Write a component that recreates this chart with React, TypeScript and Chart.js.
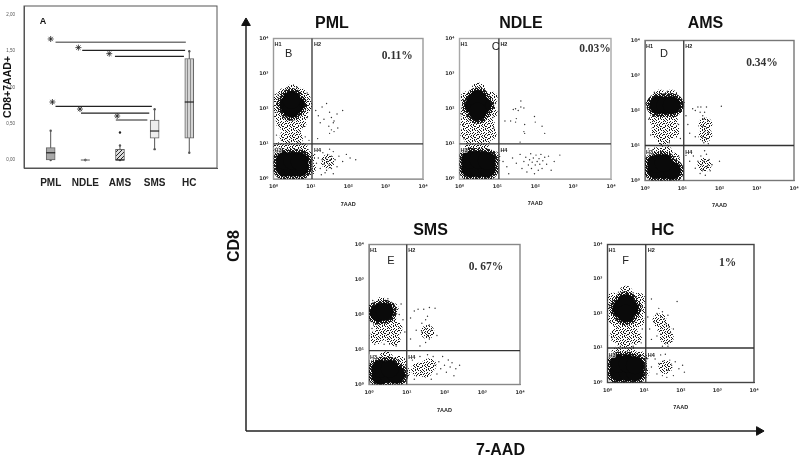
import React, { useEffect, useRef } from "react";
import { Chart, registerables } from "chart.js";

Chart.register(...registerables);

type P = [number, number];

/* ---------- Panel A: box plot values ---------- */
const categories = ["PML", "NDLE", "AMS", "SMS", "HC"];
const boxLow = [0, 0, 0, 0.3, 0.3];
const boxHigh = [0.17, 0, 0.147, 0.55, 1.4];
const medians = [0.1, 0, 0, 0.4, 0.8];
const whiskerLow = [0, 0, 0, 0.15, 0.1];
const whiskerHigh = [0.405, 0, 0.2, 0.7, 1.5];
const outliers: P[] = [[2, 0.38]];
const yTickValues = [0, 0.5, 1, 1.5, 2];
const sigLines: [number, number, number][] = [
  [0.14, 3.9, 1.623],
  [0.91, 3.88, 1.513],
  [1.855, 3.845, 1.43],
  [0.14, 2.92, 0.74],
  [0.875, 2.845, 0.648],
  [1.88, 2.79, 0.552],
];
const sigStars: P[] = [
  [0, 1.669],
  [0.8, 1.55],
  [1.69, 1.467],
  [0.05, 0.8],
  [0.845, 0.703],
  [1.92, 0.607],
];

/* ---------- Flow panels: values in log10 decades ---------- */
const flowTitles = ["PML", "NDLE", "AMS", "SMS", "HC"];
const flowLetters = ["B", "C", "D", "E", "F"];
const flowPercents = ["0.11%", "0.03%", "0.34%", "0. 67%", "1%"];
const gateNames = ["H1", "H2", "H3", "H4"];
const gates: P[] = [[1.03, 1.0], [1.04, 1.0], [1.04, 1.0], [1.0, 0.97], [1.045, 1.0]];

const pmlCore: P[] = [[0.4, 2.12], [0.58, 2.12], [0.48, 2.0], [0.48, 2.25], [0.3, 0.32], [0.5, 0.32], [0.7, 0.32], [0.3, 0.52], [0.5, 0.52], [0.7, 0.5]];
const pmlHaze: P[] = [[0.45, 1.72], [0.55, 1.55], [0.4, 1.45], [0.55, 1.3], [0.35, 1.2], [0.6, 1.15], [0.25, 1.6], [0.7, 1.6], [0.15, 2.05], [0.85, 2.1], [0.5, 2.5], [0.3, 2.4], [0.7, 2.4], [0.18, 2.27], [0.8, 2.3], [0.2, 1.8], [0.75, 1.85], [0.15, 0.85], [0.45, 0.88], [0.75, 0.85], [0.92, 0.6], [0.95, 0.3], [1.45, 0.5]];
const pmlSpecks: P[] = [[1.13, 1.95], [1.2, 1.8], [1.3, 2.05], [1.42, 2.15], [1.5, 1.9], [1.55, 1.75], [1.35, 1.7], [1.62, 1.65], [1.48, 1.5], [1.55, 1.4], [1.62, 1.35], [1.5, 1.3], [1.72, 1.45], [1.85, 1.95], [1.18, 1.15], [1.6, 1.6], [1.7, 1.85], [1.25, 1.6], [1.1, 0.7], [1.15, 0.45], [1.2, 0.6], [1.25, 0.3], [1.3, 0.55], [1.32, 0.75], [1.35, 0.42], [1.4, 0.6], [1.42, 0.25], [1.45, 0.5], [1.45, 0.7], [1.48, 0.4], [1.5, 0.85], [1.52, 0.55], [1.55, 0.3], [1.55, 0.65], [1.58, 0.45], [1.6, 0.15], [1.6, 0.78], [1.65, 0.55], [1.7, 0.35], [1.75, 0.65], [1.85, 0.5], [1.95, 0.7], [2.05, 0.6], [2.2, 0.55], [1.38, 0.18], [1.28, 0.12], [0.1, 1.9], [0.15, 1.55], [0.08, 1.25], [0.22, 1.1], [0.3, 1.75], [0.72, 1.35], [0.85, 1.2], [0.9, 1.75], [0.95, 1.1], [0.8, 1.5], [0.12, 2.4], [0.9, 2.45], [0.62, 2.62], [0.38, 2.6], [0.65, 1.05], [0.42, 1.05]];

const ndleCore: P[] = [[0.38, 2.1], [0.6, 2.1], [0.48, 2.27], [0.48, 1.92], [0.28, 0.3], [0.5, 0.3], [0.72, 0.3], [0.28, 0.55], [0.5, 0.55], [0.72, 0.52]];
const ndleHaze: P[] = [[0.5, 1.68], [0.35, 1.52], [0.62, 1.42], [0.45, 1.25], [0.3, 1.15], [0.65, 1.15], [0.2, 1.9], [0.82, 1.9], [0.2, 1.6], [0.75, 1.55], [0.2, 1.3], [0.8, 1.3], [0.2, 2.3], [0.82, 2.3], [0.5, 2.55], [0.3, 0.85], [0.6, 0.88], [0.9, 0.6], [0.5, 1.05]];
const ndleSpecks: P[] = [[1.62, 2.22], [1.48, 2.0], [1.55, 1.95], [1.62, 2.05], [1.42, 1.98], [1.7, 2.02], [1.5, 1.72], [1.2, 1.65], [1.35, 1.65], [1.48, 1.62], [1.72, 1.55], [1.98, 1.78], [2.0, 1.62], [2.18, 1.5], [1.7, 1.35], [1.72, 1.3], [2.25, 1.3], [1.6, 1.05], [1.15, 0.5], [1.25, 0.35], [1.4, 0.6], [1.5, 0.45], [1.6, 0.7], [1.65, 0.3], [1.7, 0.5], [1.75, 0.62], [1.78, 0.2], [1.82, 0.4], [1.85, 0.55], [1.88, 0.72], [1.9, 0.3], [1.92, 0.48], [1.95, 0.6], [1.98, 0.15], [2.0, 0.4], [2.02, 0.68], [2.05, 0.5], [2.08, 0.25], [2.1, 0.58], [2.12, 0.42], [2.15, 0.7], [2.18, 0.3], [2.2, 0.52], [2.25, 0.62], [2.3, 0.42], [2.35, 0.65], [2.42, 0.25], [2.5, 0.5], [2.65, 0.68], [1.3, 0.15], [1.1, 0.8], [0.1, 1.55], [0.12, 1.15], [0.9, 1.45], [0.88, 1.75], [0.4, 1.1], [0.05, 1.85], [0.95, 2.15]];

const amsCore: P[] = [[0.36, 2.15], [0.55, 2.15], [0.72, 2.15], [0.3, 0.3], [0.52, 0.3], [0.72, 0.28], [0.3, 0.48], [0.5, 0.5]];
const amsHaze: P[] = [[0.2, 2.2], [0.4, 2.4], [0.7, 2.4], [0.88, 2.2], [0.5, 1.85], [0.3, 1.75], [0.7, 1.7], [0.55, 1.5], [0.35, 1.4], [0.75, 1.4], [0.5, 1.2], [0.3, 0.75], [0.55, 0.8], [0.75, 0.6], [1.6, 0.45], [1.62, 1.6], [1.62, 1.3]];
const amsSpecks: P[] = [[1.1, 1.85], [1.15, 1.6], [1.2, 1.35], [1.28, 2.05], [1.35, 2.0], [1.42, 2.1], [1.48, 1.95], [1.5, 2.1], [1.55, 1.85], [1.6, 1.95], [1.65, 2.1], [1.58, 1.75], [1.68, 1.7], [1.55, 1.55], [1.65, 1.5], [1.6, 1.4], [1.7, 1.35], [1.55, 1.25], [1.65, 1.2], [1.58, 1.08], [1.7, 1.05], [2.05, 2.12], [1.35, 1.25], [1.1, 0.72], [1.2, 0.55], [1.3, 0.7], [1.35, 0.35], [1.42, 0.55], [1.48, 0.2], [1.5, 0.7], [1.55, 0.3], [1.58, 0.55], [1.62, 0.15], [1.65, 0.75], [1.68, 0.42], [1.72, 0.6], [1.75, 0.28], [1.6, 0.85], [1.52, 0.45], [1.65, 0.4], [1.8, 0.45], [2.0, 0.55], [0.1, 1.75], [0.15, 1.3], [0.9, 1.6], [0.95, 1.2], [0.1, 0.9], [0.9, 0.7], [0.42, 1.05], [0.65, 1.08], [0.95, 2.0], [0.25, 2.52], [0.6, 2.55]];

const smsCore: P[] = [[0.26, 2.05], [0.42, 2.08], [0.3, 0.25], [0.5, 0.3], [0.72, 0.28], [0.3, 0.45], [0.55, 0.45]];
const smsHaze: P[] = [[0.15, 2.15], [0.6, 2.15], [0.32, 2.3], [0.55, 1.8], [0.3, 1.7], [0.7, 1.6], [0.45, 1.45], [0.2, 1.35], [0.65, 1.3], [0.9, 0.35], [0.45, 0.75], [0.8, 0.62], [1.45, 0.46], [1.3, 0.42], [1.5, 0.4], [1.55, 1.5], [1.6, 0.55]];
const smsSpecks: P[] = [[1.1, 1.9], [1.2, 2.1], [1.3, 2.15], [1.45, 2.15], [1.6, 2.2], [1.75, 2.18], [1.4, 1.75], [1.5, 1.85], [1.55, 1.95], [1.25, 1.55], [1.4, 1.5], [1.5, 1.6], [1.6, 1.7], [1.55, 1.4], [1.6, 1.3], [1.5, 1.2], [1.35, 1.1], [1.8, 1.4], [1.1, 1.3], [1.65, 1.55], [1.7, 0.8], [1.75, 0.55], [1.8, 0.3], [1.85, 0.65], [1.9, 0.45], [1.95, 0.8], [2.0, 0.55], [2.05, 0.35], [2.1, 0.7], [2.15, 0.5], [2.2, 0.62], [2.25, 0.25], [2.3, 0.45], [2.4, 0.55], [1.65, 0.15], [1.2, 0.15], [1.55, 0.85], [1.35, 0.8], [1.15, 0.7], [0.08, 1.6], [0.15, 1.15], [0.4, 1.15], [0.72, 1.1], [0.9, 1.85], [0.95, 1.5], [0.8, 2.0], [0.85, 2.3], [0.5, 2.45], [0.1, 2.4]];

const hcCore: P[] = [[0.38, 2.15], [0.6, 2.15], [0.5, 2.3], [0.5, 2.0], [0.3, 0.3], [0.55, 0.3], [0.75, 0.3], [0.3, 0.55], [0.55, 0.55], [0.75, 0.5]];
const hcHaze: P[] = [[0.5, 1.72], [0.35, 1.62], [0.65, 1.6], [0.5, 1.4], [0.25, 1.35], [0.75, 1.3], [0.45, 1.15], [0.15, 2.1], [0.85, 2.1], [0.2, 1.85], [0.82, 1.8], [0.15, 2.4], [0.85, 2.4], [0.5, 2.6], [0.3, 0.85], [0.6, 0.88], [0.9, 0.7], [0.95, 0.3], [1.58, 0.45], [1.55, 1.55], [1.42, 1.8], [1.62, 1.3]];
const hcSpecks: P[] = [[1.1, 1.9], [1.15, 1.55], [1.2, 1.25], [1.28, 1.75], [1.35, 2.0], [1.4, 2.15], [1.45, 1.9], [1.5, 2.05], [1.55, 1.85], [1.6, 1.7], [1.65, 1.95], [1.68, 1.6], [1.72, 1.45], [1.45, 1.4], [1.35, 1.35], [1.6, 1.15], [1.7, 1.2], [1.5, 1.05], [1.65, 1.05], [1.9, 2.35], [1.2, 2.42], [1.8, 1.55], [1.1, 0.7], [1.2, 0.45], [1.3, 0.68], [1.35, 0.25], [1.4, 0.55], [1.45, 0.8], [1.5, 0.2], [1.52, 0.62], [1.58, 0.82], [1.62, 0.15], [1.65, 0.35], [1.7, 0.65], [1.75, 0.5], [1.8, 0.2], [1.85, 0.6], [1.95, 0.4], [2.05, 0.5], [2.1, 0.3], [0.08, 1.75], [0.12, 1.3], [0.95, 1.55], [0.92, 1.15], [0.35, 1.05], [0.7, 1.05], [0.95, 2.2], [0.05, 2.25], [0.3, 2.62], [0.7, 2.6]];

const flowCore = [pmlCore, ndleCore, amsCore, smsCore, hcCore];
const flowHaze = [pmlHaze, ndleHaze, amsHaze, smsHaze, hcHaze];
const flowSpecks = [pmlSpecks, ndleSpecks, amsSpecks, smsSpecks, hcSpecks];
const decadeLabels = ["10⁰", "10¹", "10²", "10³", "10⁴"];
const flowXLabel = "7AAD";

/* ---------- Overall axes ---------- */
const xAxisLine: P[] = [[0, 0], [1.008, 0]];
const yAxisLine: P[] = [[0, 0], [0, 0.988]];
const arrowTips: { x: number; y: number; rot: number }[] = [
  { x: 1.008, y: 0, rot: 90 },
  { x: 0, y: 0.988, rot: 0 },
];

/* ---------- Stipple tiles that give the dense clouds their grain ---------- */
const lightTile = [
  "#...#..#..#",
  "..##....#..",
  ".#....#...#",
  "....#...#.#",
  "#.#..#..#..",
  "...#..#....",
  "..#.#....#.",
  "#.....#.#..",
  "..##.#....#",
  ".#.....#.#.",
  "....#.#..#.",
];
const denseTile = [
  "##.#.##.#",
  ".##.##.##",
  "#.##.#.##",
  "##.###.#.",
  ".#.#.##.#",
  "###.#.###",
  "#.##.##.#",
  ".##.#.##.",
  "#.###.#.#",
];

function tilePattern(rows: string[]) {
  const c = document.createElement("canvas");
  c.width = rows[0].length;
  c.height = rows.length;
  const g = c.getContext("2d")!;
  g.fillStyle = "#1a1a1a";
  rows.forEach((row, y) => {
    [...row].forEach((ch, x) => {
      if (ch === "#") g.fillRect(x, y, 1, 1);
    });
  });
  return g.createPattern(c, "repeat")!;
}

/* ---------- Layout (page pixels), separate from the values ---------- */
type Frame = { l: number; r: number; t: number; b: number; titleX: number; titleY: number; tickY: number; labelY: number; letter: [number, number]; pct: [number, number]; stroke: string };
const frames: Frame[] = [
  { l: 273.5, r: 425, t: 38.5, b: 179, titleX: 337, titleY: 24, tickY: 188, labelY: 205, letter: [288.7, 54], pct: [397.3, 56], stroke: "#9a9a9a" },
  { l: 459.5, r: 611, t: 38.5, b: 179, titleX: 540, titleY: 23.5, tickY: 188, labelY: 204, letter: [495.7, 47], pct: [595, 49], stroke: "#a8a8a8" },
  { l: 645, r: 794, t: 40.5, b: 180.5, titleX: 716, titleY: 24, tickY: 189, labelY: 206, letter: [664, 54], pct: [762, 62.7], stroke: "#777777" },
  { l: 369, r: 520, t: 244.5, b: 384.5, titleX: 447.7, titleY: 231, tickY: 394, labelY: 410.7, letter: [391, 261], pct: [486, 267.3], stroke: "#888888" },
  { l: 607.5, r: 755.5, t: 244.5, b: 382.5, titleX: 668.3, titleY: 230.7, tickY: 391, labelY: 407.7, letter: [625.7, 260.7], pct: [727.7, 262.7], stroke: "#444444" },
];

const sans = "'Liberation Sans', Arial, sans-serif";
const serif = "'Liberation Serif', 'Times New Roman', serif";

type TextItem = { text: string; x: number; y: number; font: string; color?: string; halo?: boolean; align?: CanvasTextAlign };

const decorPlugin = {
  id: "decor",
  beforeDatasetsDraw(chart: any, _a: any, opts: any) {
    if (!opts.frame) return;
    const { left, right, top, bottom } = chart.chartArea;
    const ctx = chart.ctx;
    ctx.save();
    ctx.strokeStyle = opts.frame;
    ctx.lineWidth = opts.frameWidth || 1;
    ctx.strokeRect(left, top, right - left, bottom - top);
    ctx.restore();
  },
  afterDatasetsDraw(chart: any, _a: any, opts: any) {
    const ctx = chart.ctx;
    ctx.save();
    ctx.textBaseline = "middle";
    for (const t of (opts.items || []) as TextItem[]) {
      ctx.font = t.font;
      ctx.textAlign = t.align || "center";
      if (t.halo) {
        ctx.strokeStyle = "rgba(255,255,255,0.75)";
        ctx.lineWidth = 1.5;
        ctx.strokeText(t.text, t.x, t.y);
      }
      ctx.fillStyle = t.color || "#222";
      ctx.fillText(t.text, t.x, t.y);
    }
    ctx.restore();
  },
};

const toLog = (arr: P[]) => arr.map(([x, y]) => ({ x: 10 ** x, y: 10 ** y }));
const toXY = (arr: P[]) => arr.map(([x, y]) => ({ x, y }));

function stripePattern(kind: "hatch" | "vertical") {
  const c = document.createElement("canvas");
  c.width = kind === "hatch" ? 4 : 3;
  c.height = kind === "hatch" ? 4 : 3;
  const g = c.getContext("2d")!;
  g.fillStyle = kind === "hatch" ? "#dddddd" : "#d4d4d4";
  g.fillRect(0, 0, c.width, c.height);
  g.strokeStyle = kind === "hatch" ? "#222222" : "#8a8a8a";
  g.lineWidth = 1;
  g.beginPath();
  if (kind === "hatch") {
    g.moveTo(-1, 5);
    g.lineTo(5, -1);
  } else {
    g.moveTo(1.5, 0);
    g.lineTo(1.5, 3);
  }
  g.stroke();
  return g.createPattern(c, "repeat")!;
}

function fixed(axis: "x" | "y", size: number) {
  return (s: any) => {
    if (axis === "x") s.height = size;
    else s.width = size;
    s.paddingLeft = s.paddingRight = s.paddingTop = s.paddingBottom = 0;
  };
}

function buildOverview(canvas: HTMLCanvasElement) {
  const axisLine = (pts: P[]) => ({ showLine: true, clip: false, pointRadius: 0, borderColor: "#222", borderWidth: 1.5, data: toXY(pts) });
  return new Chart(canvas, {
    type: "scatter",
    plugins: [decorPlugin],
    data: {
      datasets: [
        {
          data: arrowTips.map((t) => ({ x: t.x, y: t.y })),
          clip: false,
          pointStyle: "triangle",
          pointRadius: 5,
          pointRotation: arrowTips.map((t) => t.rot),
          backgroundColor: "#111",
          borderColor: "#111",
        },
        axisLine(xAxisLine),
        axisLine(yAxisLine),
      ],
    },
    options: {
      responsive: false,
      animation: false,
      devicePixelRatio: 1,
      layout: { padding: { top: 18, right: 45, left: 0, bottom: 0 } },
      plugins: { legend: { display: false }, tooltip: { enabled: false }, title: { display: false }, decor: {} } as any,
      scales: {
        x: {
          type: "linear",
          min: 0,
          max: 1,
          grid: { display: false },
          border: { display: false },
          ticks: { display: false },
          afterFit: fixed("x", 33),
          title: { display: true, text: "7-AAD", color: "#111", padding: { top: 0, bottom: 4 }, font: { family: sans, size: 16, weight: "bold" } },
        },
        y: {
          type: "linear",
          min: 0,
          max: 1,
          grid: { display: false },
          border: { display: false },
          ticks: { display: false },
          afterFit: fixed("y", 22),
        },
      },
    } as any,
  });
}

function buildYLabel(canvas: HTMLCanvasElement) {
  return new Chart(canvas, {
    type: "scatter",
    data: { datasets: [] },
    options: {
      responsive: false,
      animation: false,
      devicePixelRatio: 1,
      plugins: { legend: { display: false }, tooltip: { enabled: false } },
      scales: {
        x: { type: "linear", display: false },
        y: {
          type: "linear",
          grid: { display: false },
          border: { display: false },
          ticks: { display: false },
          afterFit: fixed("y", 22),
          title: { display: true, text: "CD8", color: "#111", padding: 0, font: { family: sans, size: 16, weight: "bold" } },
        },
      },
    } as any,
  });
}

function buildBoxPlot(canvas: HTMLCanvasElement) {
  const fills = ["#a9a9a9", "#999999", stripePattern("hatch"), "#eeeeee", stripePattern("vertical")];
  const whiskers = categories.map((_, i) => ({
    type: "scatter" as const,
    order: 6,
    showLine: true,
    pointRadius: 0,
    borderColor: "#555",
    borderWidth: 1,
    data: [
      { x: i, y: whiskerLow[i] },
      { x: i, y: whiskerHigh[i] },
    ],
  }));
  const lines = sigLines.map(([a, b, y], i) => ({
    type: "scatter" as const,
    order: 2,
    showLine: true,
    pointRadius: 0,
    borderColor: i === 0 ? "#777" : "#222",
    borderWidth: i === 0 ? 1.5 : 1.2,
    data: [
      { x: a, y },
      { x: b, y },
    ],
  }));
  return new Chart(canvas, {
    type: "scatter",
    plugins: [decorPlugin],
    data: {
      datasets: [
        ...whiskers,
        {
          type: "scatter",
          order: 5,
          pointRadius: 1.2,
          backgroundColor: "#555",
          borderWidth: 0,
          data: [
            ...categories.map((_, i) => ({ x: i, y: whiskerHigh[i] })),
            ...categories.map((_, i) => ({ x: i, y: whiskerLow[i] })),
          ],
        },
        {
          type: "bar",
          order: 4,
          barThickness: 9,
          grouped: false,
          backgroundColor: fills,
          borderColor: "#666",
          borderWidth: 1,
          borderSkipped: false,
          data: categories.map((_, i) => ({ x: i, y: [boxLow[i], boxHigh[i]] })),
        },
        {
          type: "scatter",
          order: 3,
          pointStyle: "line",
          pointRadius: 4.5,
          pointBorderWidth: 1.2,
          borderColor: categories.map((_, i) => (i === 1 ? "#777" : "#222")),
          data: categories.map((_, i) => ({ x: i, y: medians[i] })),
        },
        {
          type: "scatter",
          order: 1,
          pointRadius: 1.2,
          backgroundColor: "#222",
          borderWidth: 0,
          data: toXY(outliers),
        },
        ...lines,
        {
          type: "scatter",
          order: 0,
          pointStyle: "star",
          pointRadius: 3,
          borderColor: "#222",
          borderWidth: 0.8,
          data: toXY(sigStars),
        },
      ],
    } as any,
    options: {
      responsive: false,
      animation: false,
      devicePixelRatio: 1,
      layout: { padding: { top: 6, right: 8, left: 0, bottom: 0 } },
      plugins: {
        legend: { display: false },
        tooltip: { enabled: false },
        decor: {
          frame: "#555",
          frameWidth: 1,
          items: [{ text: "A", x: 43, y: 22, font: `bold 9px ${sans}`, color: "#111" }],
        },
      } as any,
      scales: {
        x: {
          type: "linear",
          offset: false,
          min: -0.77,
          max: 4.8,
          grid: { display: false, drawTicks: true },
          border: { color: "#555" },
          afterBuildTicks: (s: any) => {
            s.ticks = categories.map((_, i) => ({ value: i }));
          },
          afterFit: fixed("x", 22),
          ticks: {
            autoSkip: false,
            maxRotation: 0,
            minRotation: 0,
            padding: 1,
            color: "#222",
            font: { family: sans, size: 10, weight: "bold" },
            callback: (v: any) => categories[v] ?? "",
          },
        },
        y: {
          type: "linear",
          min: -0.11,
          max: 2.124,
          grid: { display: false },
          border: { color: "#555" },
          afterBuildTicks: (s: any) => {
            s.ticks = yTickValues.map((value) => ({ value }));
          },
          afterFit: fixed("y", 24),
          ticks: {
            autoSkip: false,
            padding: 1,
            color: "#555",
            font: { family: sans, size: 4.5 },
            callback: (v: any) => Number(v).toFixed(2).replace(".", ","),
          },
          title: { display: true, text: "CD8+7AAD+", color: "#111", padding: { top: 2, bottom: 0 }, font: { family: sans, size: 10.5, weight: "bold" } },
        },
      },
    } as any,
  });
}

function flowGeometry(f: Frame) {
  const center = f.titleX;
  const half = Math.ceil(Math.max(center - (f.l - 28), f.r + 10 - center));
  const left = Math.round(center - half);
  const top = Math.round(f.titleY - 8);
  const bottom = Math.round(f.labelY + 4);
  return { left, top, width: half * 2, height: bottom - top };
}

function buildFlow(canvas: HTMLCanvasElement, i: number) {
  const f = frames[i];
  const g = flowGeometry(f);
  const [gx, gy] = gates[i];
  const localX = (x: number) => x - g.left;
  const localY = (y: number) => y - g.top;
  const vx = f.l + ((f.r - f.l) * gx) / 4;
  const hy = f.b - ((f.b - f.t) * gy) / 4;
  const gateFont = `bold 5.5px ${sans}`;
  const items: TextItem[] = [
    { text: gateNames[0], x: localX(f.l + 1), y: localY(f.t + 5.5), font: gateFont, align: "left" },
    { text: gateNames[1], x: localX(vx + 1.5), y: localY(f.t + 5.5), font: gateFont, align: "left" },
    { text: gateNames[2], x: localX(f.l + 1), y: localY(hy + 7), font: gateFont, align: "left", halo: true },
    { text: gateNames[3], x: localX(vx + 1.5), y: localY(hy + 7), font: gateFont, align: "left", halo: true },
    { text: flowLetters[i], x: localX(f.letter[0]), y: localY(f.letter[1]), font: `11px ${sans}`, color: "#222" },
    { text: flowPercents[i], x: localX(f.pct[0]), y: localY(f.pct[1]), font: `bold 11.5px ${serif}`, color: "#333" },
  ];
  const tickLabel = (v: any) => {
    const e = Math.log10(Number(v));
    return Math.abs(e - Math.round(e)) < 1e-6 ? decadeLabels[Math.round(e)] : "";
  };
  const tickFont = { family: "'DejaVu Sans', sans-serif", size: 5, weight: "bold" };
  const light = tilePattern(lightTile);
  const dense = tilePattern(denseTile);
  return new Chart(canvas, {
    type: "scatter",
    plugins: [decorPlugin],
    data: {
      datasets: [
        { order: 0, showLine: true, pointRadius: 0, borderColor: "#333", borderWidth: 1.3, clip: false, data: [{ x: 10 ** gx, y: 1 }, { x: 10 ** gx, y: 10000 }] },
        { order: 1, showLine: true, pointRadius: 0, borderColor: "#333", borderWidth: 1.3, clip: false, data: [{ x: 1, y: 10 ** gy }, { x: 10000, y: 10 ** gy }] },
        { order: 2, pointRadius: 9, backgroundColor: "#0a0a0a", borderWidth: 0, data: toLog(flowCore[i]) },
        { order: 3, pointRadius: 12, backgroundColor: dense, borderWidth: 0, data: toLog(flowCore[i]) },
        { order: 4, pointRadius: 0.7, backgroundColor: "#333", borderWidth: 0, data: toLog(flowSpecks[i]) },
        { order: 5, pointRadius: 7, backgroundColor: light, borderWidth: 0, data: toLog(flowHaze[i]) },
      ],
    },
    options: {
      responsive: false,
      animation: false,
      devicePixelRatio: 1,
      layout: { padding: { top: 0, left: 0, bottom: 0, right: g.left + g.width - f.r } },
      plugins: {
        legend: { display: false },
        tooltip: { enabled: false },
        title: {
          display: true,
          text: flowTitles[i],
          color: "#111",
          font: { family: sans, size: 16, weight: "bold", lineHeight: 1 },
          padding: { top: 0, bottom: f.t - g.top - 16 },
        },
        decor: { frame: f.stroke, frameWidth: 1.4, items },
      } as any,
      scales: {
        x: {
          type: "logarithmic",
          min: 1,
          max: 10000,
          grid: { display: false, drawTicks: true, tickLength: 2, tickColor: "#666" },
          border: { color: f.stroke },
          afterFit: fixed("x", g.top + g.height - f.b),
          ticks: { autoSkip: false, maxRotation: 0, minRotation: 0, padding: 3, color: "#333", font: tickFont, callback: tickLabel },
          title: { display: true, text: flowXLabel, color: "#222", padding: { top: 0, bottom: 1 }, font: { family: sans, size: 5.5, weight: "bold" } },
        },
        y: {
          type: "logarithmic",
          min: 1,
          max: 10000,
          grid: { display: false, drawTicks: true, tickLength: 2, tickColor: "#666" },
          border: { color: f.stroke },
          afterFit: fixed("y", f.l - g.left),
          ticks: { autoSkip: false, padding: 3, color: "#333", font: tickFont, callback: tickLabel },
        },
      },
    } as any,
  });
}

const absolute = (left: number, top: number): React.CSSProperties => ({ position: "absolute", left, top, display: "block" });

export default function App() {
  const overview = useRef<HTMLCanvasElement>(null);
  const yLabel = useRef<HTMLCanvasElement>(null);
  const box = useRef<HTMLCanvasElement>(null);
  const flows = useRef<(HTMLCanvasElement | null)[]>([]);

  useEffect(() => {
    document.body.style.margin = "0";
    const charts = [
      buildOverview(overview.current!),
      buildYLabel(yLabel.current!),
      buildBoxPlot(box.current!),
      ...frames.map((_, i) => buildFlow(flows.current[i]!, i)),
    ];
    return () => charts.forEach((c) => c.destroy());
  }, []);

  return (
    <div style={{ position: "relative", width: 800, height: 464, overflow: "hidden", background: "#fff" }}>
      <canvas ref={overview} width={576} height={464} style={absolute(224, 0)} />
      <canvas ref={yLabel} width={24} height={370} style={absolute(225, 61)} />
      <canvas ref={box} width={225} height={190} style={absolute(0, 0)} />
      {frames.map((f, i) => {
        const g = flowGeometry(f);
        return (
          <canvas
            key={flowTitles[i]}
            ref={(el) => {
              flows.current[i] = el;
            }}
            width={g.width}
            height={g.height}
            style={absolute(g.left, g.top)}
          />
        );
      })}
    </div>
  );
}
